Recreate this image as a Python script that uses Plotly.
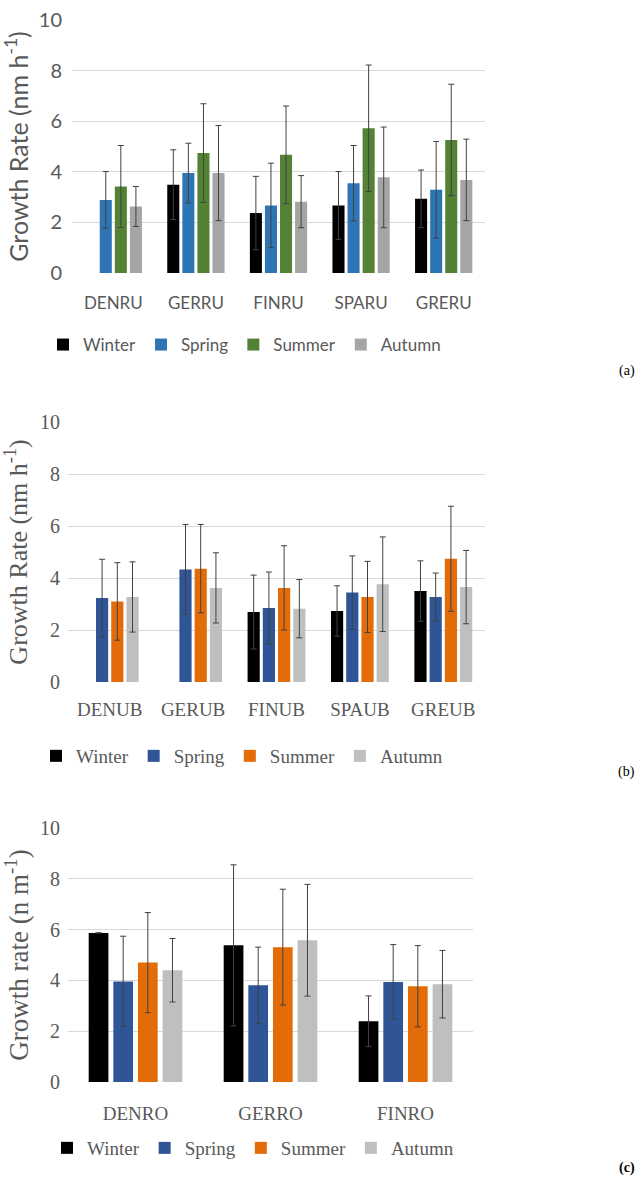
import plotly.graph_objects as go

SEASONS = ["Winter", "Spring", "Summer", "Autumn"]

# panel (a) - rural sites
CATS_A = ["DENRU", "GERRU", "FINRU", "SPARU", "GRERU"]
A_WINTER = [None, 3.49, 2.37, 2.67, 2.93]
A_SPRING = [2.89, 3.95, 2.67, 3.55, 3.29]
A_SUMMER = [3.42, 4.74, 4.67, 5.72, 5.26]
A_AUTUMN = [2.63, 3.95, 2.82, 3.78, 3.68]
A_WINTER_ERR = [None, 1.38, 1.45, 1.34, 1.14]
A_SPRING_ERR = [1.12, 1.18, 1.67, 1.49, 1.91]
A_SUMMER_ERR = [1.62, 1.95, 1.93, 2.50, 2.20]
A_AUTUMN_ERR = [0.79, 1.88, 1.03, 1.99, 1.61]

# panel (b) - urban background sites
CATS_B = ["DENUB", "GERUB", "FINUB", "SPAUB", "GREUB"]
B_WINTER = [None, None, 2.69, 2.73, 3.50]
B_SPRING = [3.23, 4.33, 2.85, 3.44, 3.27]
B_SUMMER = [3.10, 4.36, 3.62, 3.27, 4.74]
B_AUTUMN = [3.27, 3.62, 2.82, 3.76, 3.65]
B_WINTER_ERR = [None, None, 1.42, 0.97, 1.16]
B_SPRING_ERR = [1.49, 1.73, 1.38, 1.41, 0.92]
B_SUMMER_ERR = [1.49, 1.70, 1.62, 1.37, 2.02]
B_AUTUMN_ERR = [1.35, 1.35, 1.12, 1.82, 1.41]

# panel (c) - roadside sites
CATS_C = ["DENRO", "GERRO", "FINRO"]
C_WINTER = [5.87, 5.38, 2.39]
C_SPRING = [3.96, 3.81, 3.94]
C_SUMMER = [4.70, 5.31, 3.77]
C_AUTUMN = [4.40, 5.58, 3.85]
C_WINTER_ERR = [None, 3.17, 1.00]
C_SPRING_ERR = [1.78, 1.50, 1.47]
C_SUMMER_ERR = [1.97, 2.28, 1.60]
C_AUTUMN_ERR = [1.25, 2.20, 1.33]

COLORS_A = ["#000000", "#2E75B6", "#548235", "#A5A5A5"]
COLORS_BC = ["#000000", "#2F5597", "#E36C09", "#BFBFBF"]

SANS = "Lato, 'Open Sans', sans-serif"
SERIF = "'Liberation Serif', 'DejaVu Serif', serif"
GREY = "#595959"

H = 1181


def py(px):
    return 1 - px / H


fig = go.Figure()

panels = [
    ("x", "y", "legend", CATS_A,
     [A_WINTER, A_SPRING, A_SUMMER, A_AUTUMN],
     [A_WINTER_ERR, A_SPRING_ERR, A_SUMMER_ERR, A_AUTUMN_ERR], COLORS_A),
    ("x2", "y2", "legend2", CATS_B,
     [B_WINTER, B_SPRING, B_SUMMER, B_AUTUMN],
     [B_WINTER_ERR, B_SPRING_ERR, B_SUMMER_ERR, B_AUTUMN_ERR], COLORS_BC),
    ("x3", "y3", "legend3", CATS_C,
     [C_WINTER, C_SPRING, C_SUMMER, C_AUTUMN],
     [C_WINTER_ERR, C_SPRING_ERR, C_SUMMER_ERR, C_AUTUMN_ERR], COLORS_BC),
]

for xa, ya, leg, cats, vals, errs, cols in panels:
    for name, v, e, c in zip(SEASONS, vals, errs, cols):
        fig.add_trace(go.Bar(
            x=cats, y=v, name=name, marker_color=c, marker_line_width=0,
            error_y=dict(type="data", array=e, visible=True,
                         color="#404040", thickness=1, width=3),
            xaxis=xa, yaxis=ya, legend=leg, offsetgroup=name,
        ))

axis_common = dict(showline=False, ticks="", zeroline=False, automargin=False)

fig.update_layout(
    width=640, height=H,
    margin=dict(l=0, r=0, t=0, b=0),
    paper_bgcolor="white", plot_bgcolor="white",
    barmode="group", bargap=0.27, bargroupgap=0.2,
    showlegend=True,
    xaxis=dict(domain=[72 / 640, 485 / 640], anchor="y",
               tickfont=dict(family=SANS, size=17, color=GREY),
               ticklabelstandoff=18, **axis_common),
    yaxis=dict(domain=[py(273), py(20)], anchor="x", range=[0, 10], dtick=2,
               showgrid=True, gridcolor="#D9D9D9",
               tickfont=dict(family=SANS, size=20, color=GREY),
               ticklabelstandoff=9,
               title=dict(text="Growth Rate (nm h<sup>-1</sup>)", standoff=5,
                          font=dict(family=SANS, size=25, color=GREY)),
               **axis_common),
    xaxis2=dict(domain=[68 / 640, 485 / 640], anchor="y2",
                tickfont=dict(family=SERIF, size=19, color=GREY),
                ticklabelstandoff=14, **axis_common),
    yaxis2=dict(domain=[py(682), py(422)], anchor="x2", range=[0, 10], dtick=2,
                showgrid=True, gridcolor="#D9D9D9",
                tickfont=dict(family=SERIF, size=20, color=GREY),
                ticklabelstandoff=7,
                title=dict(text="Growth Rate (nm h<sup>-1</sup>)", standoff=5,
                           font=dict(family=SERIF, size=26, color=GREY)),
                **axis_common),
    xaxis3=dict(domain=[68 / 640, 473 / 640], anchor="y3",
                tickfont=dict(family=SERIF, size=19, color=GREY),
                ticklabelstandoff=18, **axis_common),
    yaxis3=dict(domain=[py(1082), py(828)], anchor="x3", range=[0, 10], dtick=2,
                showgrid=True, gridcolor="#D9D9D9",
                tickfont=dict(family=SERIF, size=20, color=GREY),
                ticklabelstandoff=7,
                title=dict(text="Growth rate (n m<sup>-1</sup>)", standoff=5,
                           font=dict(family=SERIF, size=27, color=GREY)),
                **axis_common),
    legend=dict(orientation="h", x=43 / 640, y=py(345), xanchor="left", yanchor="middle",
                font=dict(family=SANS, size=17, color=GREY), itemwidth=30,
                traceorder="normal", bgcolor="rgba(0,0,0,0)"),
    legend2=dict(orientation="h", x=36 / 640, y=py(756), xanchor="left", yanchor="middle",
                 font=dict(family=SERIF, size=19, color=GREY), itemwidth=30,
                 traceorder="normal", bgcolor="rgba(0,0,0,0)"),
    legend3=dict(orientation="h", x=47 / 640, y=py(1148), xanchor="left", yanchor="middle",
                 font=dict(family=SERIF, size=19, color=GREY), itemwidth=30,
                 traceorder="normal", bgcolor="rgba(0,0,0,0)"),
)

for lab, ypx, bold in [("(a)", 371, False), ("(b)", 772, False), ("(c)", 1168, True)]:
    fig.add_annotation(text=f"<b>{lab}</b>" if bold else lab,
                       x=637 / 640, y=py(ypx), xref="paper", yref="paper",
                       xanchor="right", yanchor="middle", showarrow=False,
                       font=dict(family=SERIF, size=14, color="#000000"))

# drop the default body margin so the 640x1181 figure fills the window exactly
fig.write_html("out.html", config={"displayModeBar": False},
               post_script="document.body.style.margin='0';")
